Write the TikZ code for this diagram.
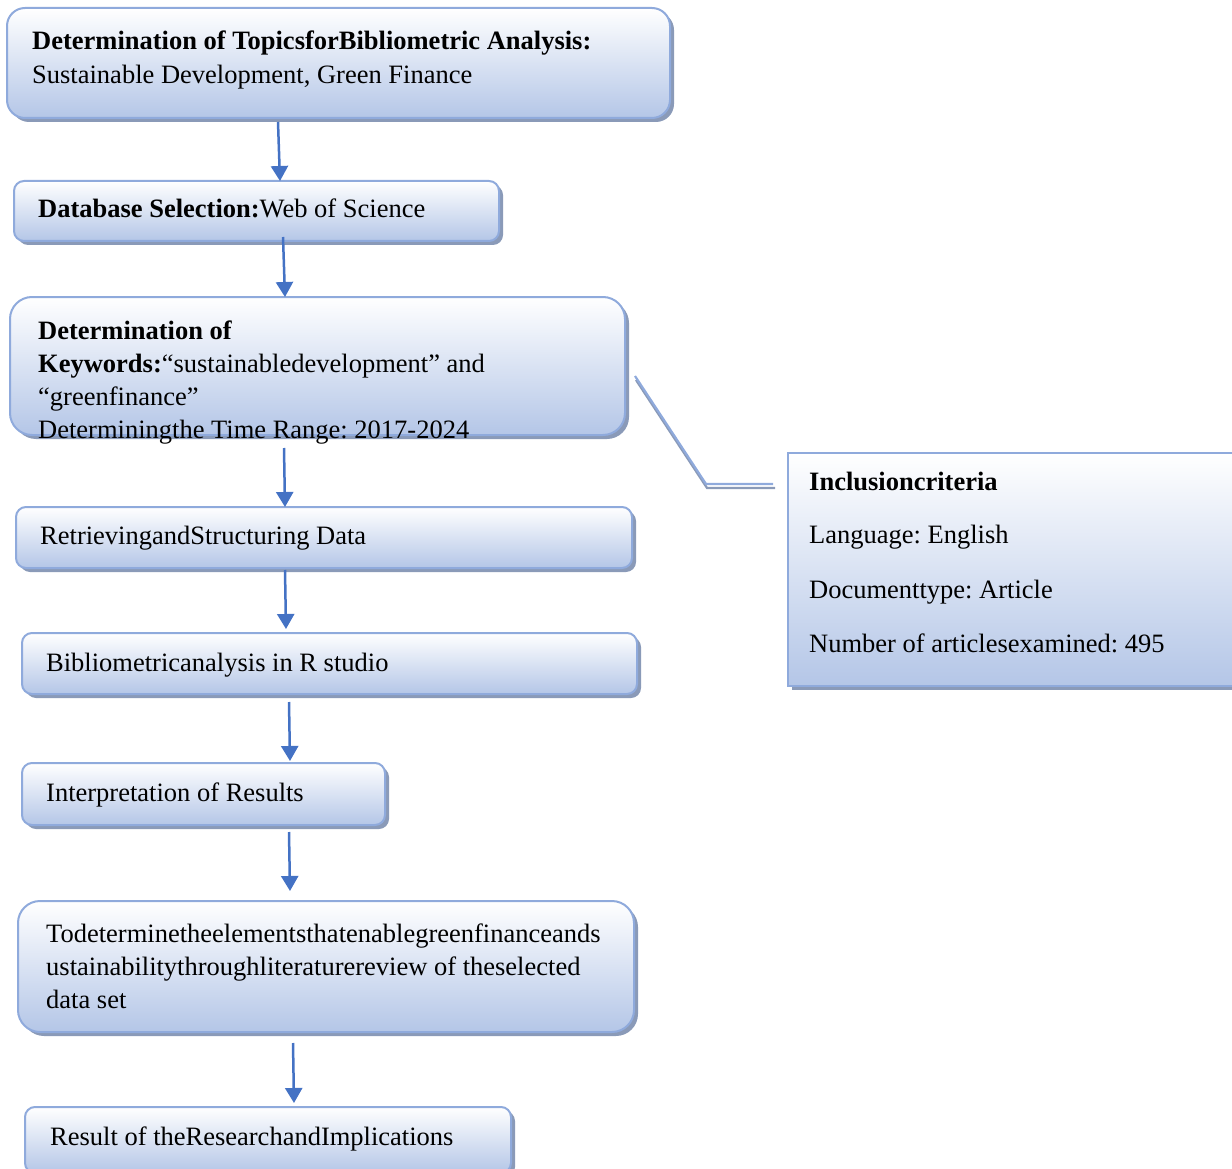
\documentclass[tikz,border=0pt]{standalone}
\usepackage{fontspec}
\setmainfont{Liberation Serif}
\frenchspacing
\usetikzlibrary{arrows.meta,shadows}
\definecolor{bordc}{RGB}{143,170,220}
\definecolor{fillb}{RGB}{180,198,231}
\definecolor{shadc}{RGB}{138,154,184}
\definecolor{arrc}{RGB}{68,114,196}
\tikzset{
  box/.style={draw=bordc, line width=2pt, top color=white, bottom color=fillb,
    drop shadow={shadow xshift=4pt, shadow yshift=-4pt, fill=shadc, opacity=1},
    inner sep=0pt, outer sep=0pt, anchor=north west},
  txt/.style={anchor=base west, inner sep=0pt, font=\fontsize{26.5pt}{33pt}\selectfont\frenchspacing, text=black},
  arr/.style={draw=arrc, line width=2.5pt, -{Triangle[width=17pt,length=15pt]}},
  callout/.style={draw=bordc, line width=2.2pt},
  calloutsh/.style={draw=shadc, line width=2.2pt}
}
\begin{document}
\begin{tikzpicture}[x=1pt,y=-1pt]
\useasboundingbox (0,0) rectangle (1232,1169);
\clip (0,0) rectangle (1232,1169);

% boxes
\node[box, rounded corners=18pt, minimum width=663pt, minimum height=110pt] (b1) at (7,8) {};
\node[box, rounded corners=10pt, minimum width=485pt, minimum height=60pt] (b2) at (14,181) {};
\node[box, rounded corners=22pt, minimum width=615pt, minimum height=138pt] (b3) at (10,297) {};
\node[box, rounded corners=10pt, minimum width=616pt, minimum height=61pt] (b4) at (16,507) {};
\node[box, rounded corners=10pt, minimum width=615pt, minimum height=61pt] (b5) at (22,633) {};
\node[box, rounded corners=10pt, minimum width=363pt, minimum height=62pt] (b6) at (22,763) {};
\node[box, rounded corners=22pt, minimum width=616pt, minimum height=131pt] (b7) at (18,901) {};
\node[box, rounded corners=10pt, minimum width=486pt, minimum height=66pt] (b8) at (25,1107) {};
\node[box, minimum width=470pt, minimum height=233pt] (inc) at (788,453) {};

% texts
\node[txt] (t1a) at (32,50) {\textbf{Determination of TopicsforBibliometric Analysis:}};
\node[txt] (t1b) at (32,84) {Sustainable Development, Green Finance};
\node[txt] (t2) at (38,218) {\textbf{Database Selection:}Web of Science};
\node[txt] (t3a) at (38,339) {\textbf{Determination of}};
\node[txt] (t3b) at (38,372) {\textbf{Keywords:}“sustainabledevelopment” and};
\node[txt] (t3c) at (38,405) {“greenfinance”};
\node[txt] (t3d) at (38,438) {Determiningthe Time Range: 2017-2024};
\node[txt] (t4) at (40,544) {RetrievingandStructuring Data};
\node[txt] (t5) at (46,671) {Bibliometricanalysis in R studio};
\node[txt] (t6) at (46,801) {Interpretation of Results};
\node[txt] (t7a) at (46,942) {Todeterminetheelementsthatenablegreenfinanceands};
\node[txt] (t7b) at (46,975) {ustainabilitythroughliteraturereview of theselected};
\node[txt] (t7c) at (46,1008) {data set};
\node[txt] (t8) at (50,1145) {Result of theResearchandImplications};
\node[txt] (i1) at (809,490) {\textbf{Inclusioncriteria}};
\node[txt] (i2) at (809,543) {Language: English};
\node[txt] (i3) at (809,598) {Documenttype: Article};
\node[txt] (i4) at (809,652) {Number of articlesexamined: 495};

% arrows
\coordinate (a1s) at (278,122); \coordinate (a1e) at (280,181);
\coordinate (a2s) at (283,237); \coordinate (a2e) at (285,297);
\coordinate (a3s) at (284,448); \coordinate (a3e) at (285,507);
\coordinate (a4s) at (285,570); \coordinate (a4e) at (286,629);
\coordinate (a5s) at (289,702); \coordinate (a5e) at (290,761);
\coordinate (a6s) at (289,832); \coordinate (a6e) at (290,891);
\coordinate (a7s) at (293,1043); \coordinate (a7e) at (294,1103);
\draw[arr] (a1s) -- (a1e);
\draw[arr] (a2s) -- (a2e);
\draw[arr] (a3s) -- (a3e);
\draw[arr] (a4s) -- (a4e);
\draw[arr] (a5s) -- (a5e);
\draw[arr] (a6s) -- (a6e);
\draw[arr] (a7s) -- (a7e);

% callout line
\coordinate (c1) at (635,376);
\coordinate (c2) at (706,484);
\coordinate (c3) at (773,484);
\draw[calloutsh] ([shift={(1,4)}]c1) -- ([shift={(1,4)}]c2) -- ([shift={(2,4)}]c3);
\draw[callout] (c1) -- (c2) -- (c3);
\end{tikzpicture}
\end{document}
